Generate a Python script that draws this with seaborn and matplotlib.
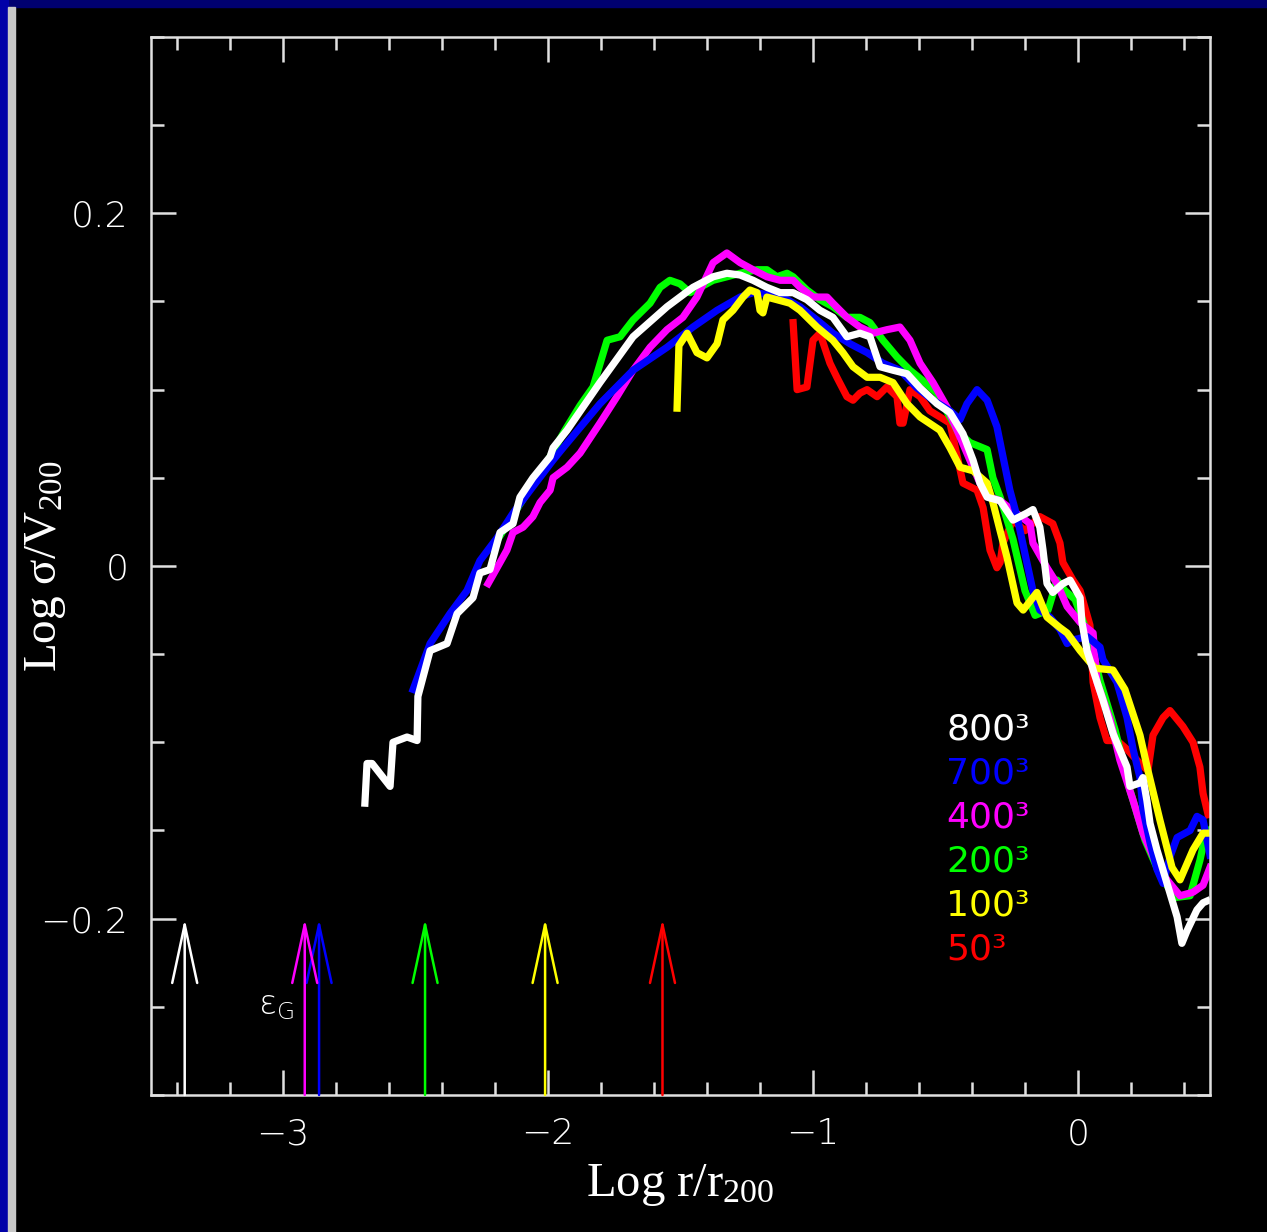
import matplotlib
matplotlib.use("Agg")
import matplotlib.pyplot as plt
from matplotlib.patches import Rectangle
from matplotlib.ticker import MultipleLocator, FuncFormatter
import pandas as pd
import seaborn as sns

# ---- velocity-dispersion profiles, Log r/r200 vs Log sigma/V200 ----
x_800 = [-2.691, -2.683, -2.664, -2.596, -2.585, -2.532, -2.494, -2.491, -2.445, -2.381,
         -2.343, -2.283, -2.257, -2.219, -2.181, -2.132, -2.106, -2.057, -1.992, -1.981,
         -1.928, -1.804, -1.679, -1.551, -1.453, -1.377, -1.325, -1.275, -1.226, -1.174,
         -1.124, -1.075, -1.023, -0.974, -0.925, -0.872, -0.823, -0.785, -0.747, -0.698,
         -0.645, -0.596, -0.532, -0.483, -0.434, -0.396, -0.370, -0.343, -0.294, -0.245,
         -0.193, -0.170, -0.144, -0.132, -0.117, -0.095, -0.057, -0.030, 0.008, 0.015,
         0.034, 0.057, 0.094, 0.132, 0.185, 0.196, 0.234, 0.245, 0.260, 0.272,
         0.298, 0.336, 0.374, 0.392, 0.411, 0.449, 0.472, 0.487]
y_800 = [-0.1345, -0.112, -0.112, -0.125, -0.100, -0.097, -0.099, -0.074, -0.048, -0.044,
         -0.027, -0.018, -0.004, -0.002, 0.019, 0.024, 0.039, 0.050, 0.062, 0.067,
         0.077, 0.104, 0.130, 0.147, 0.158, 0.164, 0.166, 0.165, 0.162, 0.158,
         0.155, 0.155, 0.151, 0.145, 0.141, 0.130, 0.132, 0.130, 0.113, 0.111,
         0.109, 0.101, 0.092, 0.087, 0.075, 0.060, 0.047, 0.039, 0.037, 0.026,
         0.030, 0.032, 0.022, 0.009, -0.010, -0.015, -0.010, -0.008, -0.018, -0.032,
         -0.048, -0.059, -0.076, -0.095, -0.114, -0.125, -0.123, -0.120, -0.133, -0.146,
         -0.161, -0.180, -0.199, -0.214, -0.207, -0.195, -0.191, -0.190]

x_700 = [-2.509, -2.445, -2.370, -2.306, -2.257, -2.192, -2.132, -2.057, -1.981, -1.943,
         -1.804, -1.679, -1.551, -1.453, -1.362, -1.275, -1.226, -1.174, -1.098, -1.049,
         -0.985, -0.925, -0.860, -0.796, -0.736, -0.672, -0.608, -0.547, -0.483, -0.445,
         -0.419, -0.381, -0.343, -0.306, -0.283, -0.257, -0.230, -0.193, -0.170, -0.144,
         -0.106, -0.068, -0.041, -0.019, 0.034, 0.083, 0.094, 0.147, 0.185, 0.208,
         0.234, 0.245, 0.272, 0.298, 0.321, 0.347, 0.374, 0.423, 0.449, 0.472,
         0.498]
y_700 = [-0.070, -0.044, -0.027, -0.014, 0.003, 0.016, 0.030, 0.045, 0.060, 0.067,
         0.092, 0.111, 0.124, 0.1355, 0.145, 0.1525, 0.155, 0.154, 0.151, 0.147,
         0.1395, 0.132, 0.126, 0.121, 0.115, 0.111, 0.101, 0.094, 0.088, 0.083,
         0.092, 0.100, 0.094, 0.079, 0.062, 0.043, 0.028, 0.002, -0.014, -0.025,
         -0.029, -0.036, -0.044, -0.042, -0.040, -0.046, -0.053, -0.066, -0.086, -0.104,
         -0.120, -0.138, -0.157, -0.172, -0.180, -0.165, -0.154, -0.150, -0.142, -0.144,
         -0.164]

x_400 = [-2.226, -2.181, -2.155, -2.132, -2.094, -2.057, -2.030, -1.992, -1.981, -1.928,
         -1.879, -1.804, -1.740, -1.679, -1.615, -1.551, -1.491, -1.438, -1.377, -1.325,
         -1.275, -1.226, -1.174, -1.124, -1.075, -1.049, -1.000, -0.947, -0.925, -0.872,
         -0.823, -0.774, -0.721, -0.672, -0.634, -0.596, -0.547, -0.494, -0.445, -0.408,
         -0.370, -0.332, -0.294, -0.181, -0.170, -0.117, -0.079, -0.041, 0.008, 0.057,
         0.072, 0.121, 0.158, 0.208, 0.245, 0.290, 0.336, 0.385, 0.434, 0.472,
         0.498]
y_400 = [-0.010, 0.002, 0.009, 0.019, 0.022, 0.028, 0.036, 0.043, 0.050, 0.056,
         0.064, 0.081, 0.096, 0.111, 0.124, 0.134, 0.141, 0.1525, 0.172, 0.1775,
         0.172, 0.168, 0.164, 0.162, 0.162, 0.158, 0.1525, 0.1525, 0.149, 0.141,
         0.1355, 0.132, 0.134, 0.1355, 0.128, 0.115, 0.104, 0.090, 0.073, 0.060,
         0.047, 0.039, 0.037, 0.024, 0.013, -0.001, -0.010, -0.023, -0.032, -0.038,
         -0.066, -0.087, -0.110, -0.133, -0.1515, -0.167, -0.178, -0.187, -0.185, -0.181,
         -0.171]

x_200 = [-2.211, -2.106, -2.011, -1.936, -1.879, -1.830, -1.777, -1.728, -1.679, -1.615,
         -1.577, -1.540, -1.502, -1.464, -1.426, -1.377, -1.325, -1.275, -1.211, -1.174,
         -1.136, -1.098, -1.075, -1.023, -0.974, -0.925, -0.872, -0.823, -0.785, -0.736,
         -0.683, -0.634, -0.585, -0.532, -0.483, -0.453, -0.408, -0.343, -0.321, -0.294,
         -0.245, -0.200, -0.162, -0.113, -0.079, -0.049, -0.011, 0.045, 0.083, 0.140,
         0.196, 0.253, 0.309, 0.366, 0.423, 0.460, 0.479, 0.498]
y_200 = [0.010, 0.035, 0.057, 0.077, 0.091, 0.1015, 0.128, 0.130, 0.1395, 0.149,
         0.158, 0.162, 0.160, 0.155, 0.158, 0.162, 0.164, 0.166, 0.168, 0.168,
         0.164, 0.166, 0.164, 0.1565, 0.151, 0.147, 0.141, 0.141, 0.138, 0.128,
         0.1185, 0.111, 0.105, 0.098, 0.0845, 0.076, 0.070, 0.066, 0.050, 0.039,
         0.015, -0.014, -0.028, -0.025, -0.008, -0.014, -0.019, -0.042, -0.065, -0.093,
         -0.127, -0.1555, -0.175, -0.188, -0.187, -0.167, -0.154, -0.150]

x_100 = [-1.513, -1.506, -1.475, -1.438, -1.400, -1.362, -1.340, -1.302, -1.264, -1.238,
         -1.211, -1.200, -1.189, -1.174, -1.136, -1.087, -1.049, -0.985, -0.925, -0.887,
         -0.849, -0.796, -0.747, -0.698, -0.645, -0.596, -0.521, -0.483, -0.445, -0.396,
         -0.343, -0.321, -0.294, -0.268, -0.230, -0.207, -0.155, -0.117, -0.068, -0.041,
         0.008, 0.064, 0.132, 0.177, 0.234, 0.264, 0.309, 0.355, 0.385, 0.434,
         0.472, 0.498]
y_100 = [0.0895, 0.125, 0.132, 0.121, 0.118, 0.126, 0.1395, 0.145, 0.1525, 0.1565,
         0.155, 0.145, 0.1435, 0.1525, 0.151, 0.149, 0.145, 0.1355, 0.128, 0.121,
         0.113, 0.107, 0.107, 0.104, 0.092, 0.0845, 0.077, 0.067, 0.056, 0.054,
         0.047, 0.036, 0.020, 0.005, -0.021, -0.025, -0.015, -0.029, -0.035, -0.038,
         -0.048, -0.058, -0.059, -0.070, -0.096, -0.116, -0.144, -0.171, -0.178, -0.161,
         -0.1515, -0.1515]

x_50 = [-1.075, -1.060, -1.023, -1.000, -0.974, -0.936, -0.910, -0.872, -0.849, -0.823,
        -0.796, -0.758, -0.721, -0.683, -0.672, -0.660, -0.634, -0.596, -0.559, -0.521,
        -0.483, -0.434, -0.381, -0.358, -0.332, -0.306, -0.294, -0.283, -0.245, -0.200,
        -0.144, -0.095, -0.068, -0.057, -0.019, 0.008, 0.045, 0.057, 0.083, 0.109,
        0.147, 0.185, 0.234, 0.264, 0.283, 0.321, 0.347, 0.396, 0.434, 0.460,
        0.472, 0.491]
y_50 = [0.138, 0.100, 0.1015, 0.128, 0.132, 0.115, 0.107, 0.096, 0.094, 0.098,
        0.100, 0.096, 0.1015, 0.096, 0.081, 0.081, 0.100, 0.096, 0.088, 0.0845,
        0.081, 0.047, 0.043, 0.033, 0.009, -0.001, 0.002, 0.013, 0.026, 0.020,
        0.028, 0.024, 0.013, 0.002, -0.008, -0.014, -0.0335, -0.066, -0.086, -0.099,
        -0.099, -0.104, -0.112, -0.116, -0.096, -0.086, -0.082, -0.091, -0.100, -0.114,
        -0.129, -0.141]

# gravitational softening of each run (Log eps_G / r200)
run_labels = ["800³", "700³", "400³", "200³", "100³", "50³"]
run_colors = ["#ffffff", "#0000ff", "#ff00ff", "#00ff00", "#ffff00", "#ff0000"]
softening = [-3.371, -2.864, -2.918, -2.464, -2.011, -1.568]

series = {
    "800³": (x_800, y_800),
    "700³": (x_700, y_700),
    "400³": (x_400, y_400),
    "200³": (x_200, y_200),
    "100³": (x_100, y_100),
    "50³": (x_50, y_50),
}

frames = []
for name, (xs, ys) in series.items():
    frames.append(pd.DataFrame({"logr": xs, "logsig": ys, "run": name}))
df = pd.concat(frames, ignore_index=True)

palette = dict(zip(run_labels, run_colors))
draw_order = ["50³", "200³", "400³", "700³", "100³", "800³"]

fg = "#e0e0e0"
plt.rcParams["font.family"] = ["DejaVu Sans"]
plt.rcParams["mathtext.default"] = "regular"

fig = plt.figure(figsize=(12.67, 12.32), dpi=100, facecolor="black")
ax = fig.add_axes([0.1188, 0.1112, 0.8366, 0.8588])
ax.set_facecolor("black")

sns.lineplot(data=df, x="logr", y="logsig", hue="run", hue_order=draw_order,
             palette=palette, sort=False, estimator=None, units="run",
             lw=5.2, legend=False, ax=ax)

ax.set_xlim(-3.5, 0.5)
ax.set_ylim(-0.3, 0.3)

# softening arrows
for xe, c in zip(softening, run_colors):
    ax.annotate("", xy=(xe, -0.2), xytext=(xe, -0.3),
                arrowprops=dict(arrowstyle="->,head_length=2.1,head_width=0.45",
                                color=c, lw=1.8, shrinkA=0, shrinkB=0,
                                mutation_scale=20))
ax.text(-3.095, -0.249, "ε$_{G}$", color="white", fontsize=24, fontweight=200,
        ha="left", va="center")

# run labels
for i, (lab, c) in enumerate(zip(run_labels, run_colors)):
    ax.text(-0.497, -0.0925 - 0.025 * i, lab, color=c, fontsize=26,
            ha="left", va="center")

# axes styling
for sp in ax.spines.values():
    sp.set_color(fg)
    sp.set_linewidth(1.8)

ax.xaxis.set_major_locator(MultipleLocator(1.0))
ax.xaxis.set_minor_locator(MultipleLocator(0.2))
ax.yaxis.set_major_locator(MultipleLocator(0.2))
ax.yaxis.set_minor_locator(MultipleLocator(0.05))


def tick_fmt(v, pos):
    if abs(v) < 1e-9:
        return "0"
    return f"{v:g}".replace("-", "\u2212")


ax.xaxis.set_major_formatter(FuncFormatter(tick_fmt))
ax.yaxis.set_major_formatter(FuncFormatter(tick_fmt))
ax.tick_params(which="both", direction="in", top=True, right=True,
               color=fg, width=1.8, labelcolor="white", labelsize=26, pad=16)
ax.tick_params(which="major", length=18)
ax.tick_params(which="minor", length=9.5)
for lab in ax.get_xticklabels() + ax.get_yticklabels():
    lab.set_fontweight(200)

ax.set_xlabel("Log r/r$_{200}$", color="white", fontsize=35,
              family="Liberation Serif")
ax.xaxis.set_label_coords(0.5, -0.063)
ax.set_ylabel("Log σ/V$_{200}$", color="white", fontsize=34,
              family="Liberation Serif")
ax.yaxis.label.set_va("center")
ax.yaxis.set_label_coords(-0.0995, 0.5)

# window frame bands
fig.add_artist(Rectangle((0, 1 - 7 / 1232), 1, 7 / 1232, transform=fig.transFigure,
                         color="#000070", zorder=10))
fig.add_artist(Rectangle((0, 0), 8 / 1267, 1, transform=fig.transFigure,
                         color="#0000a8", zorder=10))
fig.add_artist(Rectangle((8 / 1267, 0), 7 / 1267, 1 - 7 / 1232, transform=fig.transFigure,
                         color="#c8c8c8", zorder=10))

fig.savefig("out.png", dpi=100, facecolor="black")
